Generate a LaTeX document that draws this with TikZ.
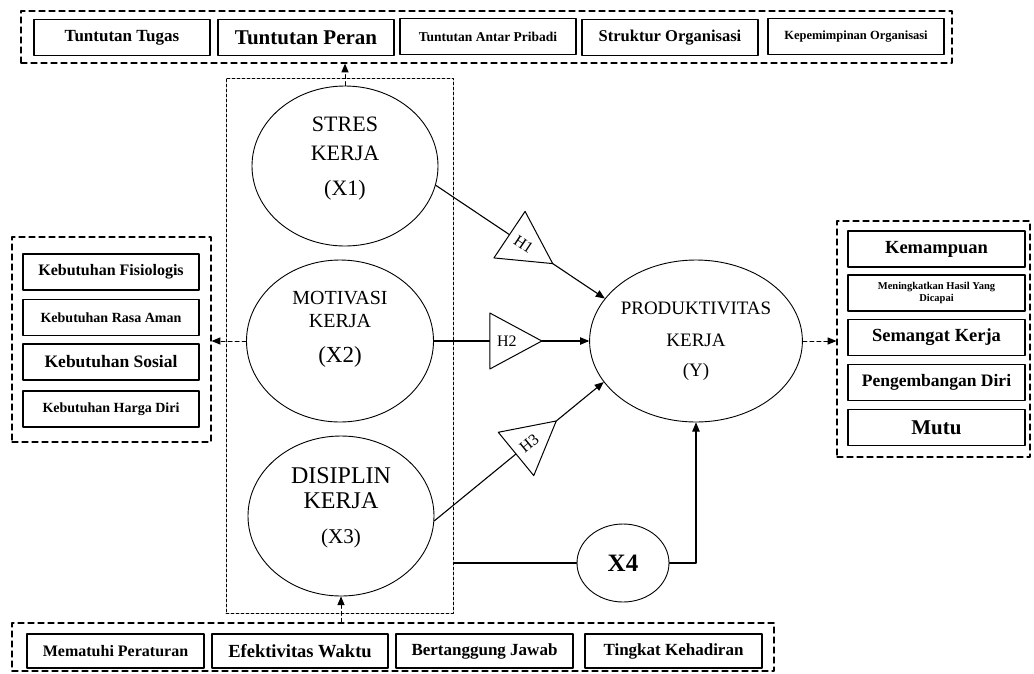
\documentclass[tikz,border=0pt]{standalone}
\usepackage{fontspec}
\setmainfont{Liberation Serif}
\usetikzlibrary{arrows,shapes.geometric}
\newcommand\fsz[1]{\fontsize{#1}{24}\selectfont}

\begin{document}
\begin{tikzpicture}[line cap=round,line join=round,>=triangle 45,x=1pt,y=-1pt,
  box/.style={draw, line width=1.3pt, inner sep=0pt, minimum width=176pt, minimum height=36pt},
  grp/.style={draw, dash pattern=on 6pt off 4pt, line width=1.3pt, inner sep=0pt},
  var/.style={ellipse, draw, line width=0.9pt, inner sep=0pt, minimum width=186pt, minimum height=160pt, align=center, font=\fsz{20}},
  hyp/.style={isosceles triangle, isosceles triangle stretches, draw, fill=white, line width=1pt, inner sep=0pt, minimum width=56pt, minimum height=52pt, font=\fsz{16}},
  link/.style={line width=1.1pt},
  ind/.style={dash pattern=on 4pt off 3pt, line width=1pt, ->}]
\useasboundingbox (0,0) rectangle (1034,673);
% top group
\node[grp, minimum width=931pt, minimum height=52pt] (tgrp) at (486.5,37) {};
\node[box, font=\bfseries\fsz{17}] (t1) at (122,37.5) {Tuntutan Tugas};
\node[box, font=\bfseries\fsz{21}] (t2) at (306,37.5) {Tuntutan Peran};
\node[box, font=\bfseries\fsz{13.5}] (t3) at (488,36.5) {Tuntutan Antar Pribadi};
\node[box, font=\bfseries\fsz{16.5}] (t4) at (670,37.5) {Struktur Organisasi};
\node[box, font=\bfseries\fsz{12.5}] (t5) at (856,36.5) {Kepemimpinan Organisasi};
% left group
\node[grp, minimum width=199pt, minimum height=205pt] (lgrp) at (111.5,339.5) {};
\node[box, font=\bfseries\fsz{16}] (l1) at (111,272) {Kebutuhan Fisiologis};
\node[box, font=\bfseries\fsz{14}] (l2) at (111,317.5) {Kebutuhan Rasa Aman};
\node[box, font=\bfseries\fsz{17.5}] (l3) at (111,362) {Kebutuhan Sosial};
\node[box, font=\bfseries\fsz{14}] (l4) at (111,409) {Kebutuhan Harga Diri};
% right group
\node[grp, minimum width=193pt, minimum height=236pt] (rgrp) at (933.5,339) {};
\node[box, minimum width=177pt, font=\bfseries\fsz{18.5}] (r1) at (936.5,249) {Kemampuan};
\node[box, minimum width=177pt, align=center, font=\bfseries\fontsize{10.5}{12}\selectfont] (r2) at (936.5,293) {Meningkatkan Hasil Yang\\Dicapai};
\node[box, minimum width=177pt, font=\bfseries\fsz{18.5}] (r3) at (936.5,337.5) {Semangat Kerja};
\node[box, minimum width=177pt, font=\bfseries\fsz{17.5}] (r4) at (936.5,382.5) {Pengembangan Diri};
\node[box, minimum width=177pt, font=\bfseries\fsz{21}] (r5) at (936.5,427.5) {Mutu};
% bottom group
\node[grp, minimum width=762pt, minimum height=48pt] (bgrp) at (393,647) {};
\node[box, minimum width=177pt, minimum height=34pt, font=\bfseries\fsz{16}] (b1) at (115.5,651) {Mematuhi Peraturan};
\node[box, minimum height=34pt, font=\bfseries\fsz{18.5}] (b2) at (300,651) {Efektivitas Waktu};
\node[box, minimum width=177pt, minimum height=34pt, font=\bfseries\fsz{17}] (b3) at (484.5,651) {Bertanggung Jawab};
\node[box, minimum width=177pt, minimum height=34pt, font=\bfseries\fsz{17}] (b4) at (673.5,651) {Tingkat Kehadiran};
% variables
\node[grp, minimum width=227pt, minimum height=535pt, dash pattern=on 3pt off 2pt, line width=0.9pt] (xgrp) at (339.5,345.5) {};
\node[var, font=\fsz{22}] (x1) at (345,166) {STRES\\[5pt]KERJA\\[11pt](X1)\\[-4pt]\mbox{}};
\node[var, minimum width=187pt, minimum height=162pt] (x2) at (340,341) {MOTIVASI\\[-1pt]KERJA\\[11pt]{\fsz{23}(X2)}\\[4pt]\mbox{}};
\node[var, font=\fsz{24}] (x3) at (341,516) {DISIPLIN\\[1pt]KERJA\\[11pt]{\fsz{21}(X3)}\\[-3pt]\mbox{}};
\node[var, font=\fsz{19}, minimum height=162pt] (y) at (696,341) {PRODUKTIVITAS\\[8pt]KERJA\\[6pt](Y)};
\node[ellipse, draw, line width=0.9pt, minimum width=92pt, minimum height=78pt, font=\bfseries\fsz{25}] (x4) at (623,563) {X4};
% paths
\draw[link,->] (x1.-12) -- node[hyp, pos=.52, sloped] (h1) {H1} (y.155);
\draw[link,->] (x2.east) -- node[hyp, pos=.47, sloped] (h2) {H2} (y.west);
\draw[link,->] (x3.-3) -- node[hyp, pos=.56, sloped] (h3) {H3} (y.204);
\draw[link] (xgrp.east |- x4.west) -- (x4.west);
\draw[link,->] (x4.east) -| (y.south);
% indicators
\draw[ind] (x1.north) -- (x1.north |- tgrp.south);
\draw[ind] (x2.west) -- (x2.west -| lgrp.east);
\draw[ind] (y.east) -- (y.east -| rgrp.west);
\draw[ind] (x3.south |- bgrp.north) -- (x3.south);
\end{tikzpicture}
\end{document}
